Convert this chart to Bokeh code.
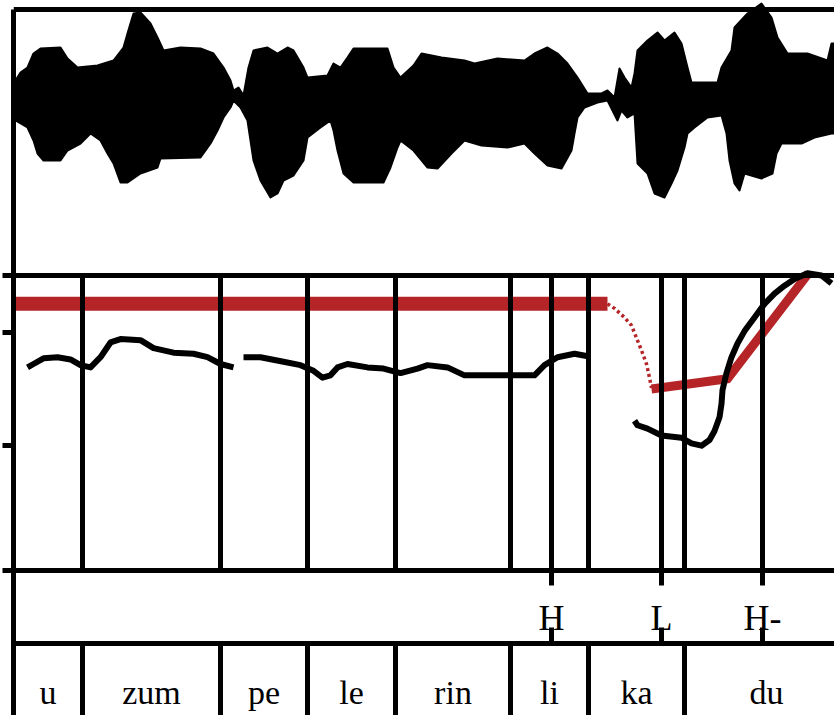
from bokeh.plotting import figure
from bokeh.models import Range1d, LinearAxis, FixedTicker, Span, CustomJSTickFormatter
from bokeh.embed import file_html
from bokeh.resources import INLINE
from bokeh.core.properties import value

# ---------------- data (time in ms) ----------------
# waveform envelope (relative amplitude)
wave_upper_ms = [4, 14, 28, 40, 54, 94, 108, 128, 168, 200, 220, 228, 240, 254, 274, 288, 300, 334, 374, 400,
                 420, 434, 440, 450, 460, 470, 480, 508, 528, 548, 560, 580, 588, 628, 640, 654, 668, 680, 748, 760,
                 774, 800, 816, 856, 902, 922, 968, 1022, 1042, 1068, 1088, 1108, 1128, 1148, 1176, 1188, 1202, 1212,
                 1222, 1236, 1242, 1248, 1268, 1288, 1302, 1322, 1336, 1348, 1356, 1408, 1416, 1436, 1442, 1468,
                 1496, 1516, 1528, 1548, 1588, 1628, 1636, 1646]
wave_upper_amp = [0.20, 0.28, 0.33, 0.47, 0.52, 0.53, 0.42, 0.33, 0.35, 0.40, 0.53, 0.67, 0.87, 0.88, 0.77, 0.63,
                  0.50, 0.53, 0.52, 0.47, 0.33, 0.20, 0.10, 0.13, 0.05, 0.33, 0.50, 0.53, 0.47, 0.53, 0.50, 0.33,
                  0.23, 0.25, 0.37, 0.33, 0.43, 0.52, 0.52, 0.33, 0.23, 0.35, 0.47, 0.43, 0.40, 0.37, 0.42, 0.40,
                  0.47, 0.53, 0.47, 0.37, 0.23, 0.07, 0.07, 0.10, 0.03, 0.32, 0.23, 0.13, 0.27, 0.50, 0.60, 0.68,
                  0.60, 0.68, 0.57, 0.33, 0.18, 0.18, 0.33, 0.50, 0.73, 0.87, 0.97, 0.83, 0.63, 0.47, 0.47, 0.40,
                  0.57, 0.57]
wave_lower_ms = [4, 28, 40, 48, 60, 94, 108, 134, 154, 174, 188, 200, 214, 228, 254, 288, 294, 374, 394, 408,
                 420, 434, 440, 454, 468, 474, 480, 494, 514, 528, 540, 560, 580, 588, 614, 634, 640, 648, 660, 680,
                 740, 754, 768, 774, 800, 828, 848, 876, 902, 936, 988, 1022, 1042, 1068, 1096, 1116, 1122, 1128,
                 1142, 1168, 1188, 1208, 1216, 1228, 1242, 1248, 1268, 1282, 1302, 1316, 1328, 1342, 1348, 1362,
                 1388, 1416, 1426, 1432, 1442, 1452, 1462, 1496, 1518, 1526, 1536, 1576, 1602, 1636, 1646]
wave_lower_amp = [-0.20, -0.27, -0.40, -0.53, -0.60, -0.60, -0.50, -0.43, -0.33, -0.40, -0.53, -0.63, -0.82,
                  -0.82, -0.73, -0.67, -0.58, -0.57, -0.43, -0.30, -0.17, -0.07, 0.0, -0.07, -0.20, -0.40, -0.60,
                  -0.80, -0.97, -0.93, -0.80, -0.75, -0.60, -0.37, -0.27, -0.20, -0.30, -0.50, -0.73, -0.82,
                  -0.82, -0.67, -0.47, -0.40, -0.50, -0.67, -0.68, -0.53, -0.40, -0.45, -0.47, -0.43, -0.53,
                  -0.65, -0.68, -0.50, -0.33, -0.17, -0.07, -0.02, 0.0, -0.20, -0.10, -0.17, -0.13, -0.63, -0.73,
                  -0.93, -0.97, -0.83, -0.70, -0.47, -0.33, -0.27, -0.17, -0.15, -0.33, -0.60, -0.83, -0.90,
                  -0.73, -0.78, -0.73, -0.53, -0.43, -0.43, -0.37, -0.33, -0.33]

# measured F0 (Hz), three voiced stretches
f0_ms = [
    [28, 40, 60, 88, 114, 134, 154, 174, 194, 214, 254, 280, 320, 360, 388, 414, 440],
    [460, 494, 540, 574, 600, 618, 634, 648, 668, 708, 740, 774, 808, 828, 868, 902, 936, 1002, 1042, 1062,
     1088, 1122, 1146],
    [1242, 1248, 1268, 1296, 1336, 1356, 1376, 1392, 1402, 1412, 1416, 1418, 1426, 1436, 1448, 1462, 1482,
     1502, 1522, 1542, 1562, 1588, 1616, 1636],
]
f0_hz = [
    [269, 272, 277, 278, 276, 271, 269, 278, 291, 294, 293, 286, 282, 281, 278, 272, 269],
    [278, 278, 274, 271, 266, 260, 262, 269, 272, 269, 268, 264, 268, 271, 269, 262, 262, 262, 262, 271,
     278, 281, 279],
    [222, 218, 215, 209, 207, 202, 200, 205, 213, 225, 237, 249, 264, 278, 290, 301, 313, 325, 334, 341,
     347, 352, 350, 343],
]

# stylised target contour (Hz)
level_ms = [0, 1188]
level_hz = [325, 325]
fall_ms = [1188, 1202, 1222, 1236, 1246, 1256, 1266, 1272, 1276]
fall_hz = [325, 321, 313, 306, 295, 284, 272, 260, 251]
target_ms = [1276, 1428, 1590]
target_hz = [250, 259, 352]

# annotation tiers
tone_ms = [1076, 1296, 1498]
tone_labels = ["H", "L", "H-"]
syllable_starts_ms = [0, 138, 414, 588, 764, 994, 1150, 1342]
syllable_end_ms = 1670
syllables = ["u", "zum", "pe", "le", "rin", "li", "ka", "du"]

pitch_ticks_hz = [90, 200, 300, 350]

# ---------------- layout (pixel rows) ----------------
W, H = 834, 715
LEFT = 13
TOP_LINE, WAVE_BOT, PITCH_BOT, TONE_BOT = 9, 275, 570, 643
PITCH_LO, PITCH_HI = 90, 350
WAVE_ZERO_PX, WAVE_PX_PER_UNIT = 100, 100
X_END = 1642
RED = "#B52528"
LW = 5

hz_per_px = (PITCH_HI - PITCH_LO) / (PITCH_BOT - WAVE_BOT)
def hz_at(px):
    return PITCH_LO + (PITCH_BOT - px) * hz_per_px

p = figure(width=W, height=H, output_backend="svg", toolbar_location=None,
           x_range=Range1d(0, X_END), y_range=Range1d(H, 0),
           x_axis_type=None, y_axis_type=None,
           min_border_left=LEFT, min_border_right=0, min_border_top=0, min_border_bottom=0)
p.outline_line_color = None
p.background_fill_color = "white"
p.border_fill_color = "white"
p.extra_y_ranges = {
    "pitch": Range1d(hz_at(H), hz_at(0)),
    "wave": Range1d((WAVE_ZERO_PX - H) / WAVE_PX_PER_UNIT, WAVE_ZERO_PX / WAVE_PX_PER_UNIT),
}

ax = LinearAxis(y_range_name="pitch", ticker=FixedTicker(ticks=pitch_ticks_hz),
                formatter=CustomJSTickFormatter(code="return ''"),
                major_tick_out=11, major_tick_in=0, minor_tick_out=0, minor_tick_in=0,
                axis_line_width=LW, major_tick_line_width=LW, major_label_standoff=0,
                bounds=(hz_at(H), hz_at(TOP_LINE)))
p.add_layout(ax, "left")

# waveform
p.patch(wave_upper_ms + wave_lower_ms[::-1], wave_upper_amp + wave_lower_amp[::-1],
        y_range_name="wave", fill_color="black", line_color="black", line_width=2, line_join="round")

# target contour
p.line(level_ms, level_hz, y_range_name="pitch", color=RED, line_width=14, line_cap="butt")
p.line(fall_ms, fall_hz, y_range_name="pitch", color=RED, line_width=3.5, line_dash="3 3")
p.line(target_ms, target_hz, y_range_name="pitch", color=RED, line_width=9, line_join="miter")

# F0 track
p.multi_line(f0_ms, f0_hz, y_range_name="pitch", color="black", line_width=6, line_join="round")

# boundaries
pitch_lines = sorted(syllable_starts_ms[1:] + tone_ms)
p.segment(x0=pitch_lines, x1=pitch_lines, y0=[WAVE_BOT] * len(pitch_lines), y1=[PITCH_BOT] * len(pitch_lines),
          color="black", line_width=LW)
p.segment(x0=tone_ms, x1=tone_ms, y0=[PITCH_BOT] * 3, y1=[PITCH_BOT + 15] * 3, color="black", line_width=LW)
p.segment(x0=tone_ms, x1=tone_ms, y0=[TONE_BOT - 16] * 3, y1=[TONE_BOT] * 3, color="black", line_width=LW)
syl_lines = syllable_starts_ms[1:]
p.segment(x0=syl_lines, x1=syl_lines, y0=[TONE_BOT] * len(syl_lines), y1=[H + 5] * len(syl_lines),
          color="black", line_width=LW)

for yy in (TOP_LINE, WAVE_BOT, PITCH_BOT, TONE_BOT):
    p.add_layout(Span(location=yy, dimension="width", line_color="black", line_width=LW))

# labels
ends = syllable_starts_ms[1:] + [syllable_end_ms]
mids = [(a + b) / 2 for a, b in zip(syllable_starts_ms, ends)]
p.text(x=mids, y=[692] * len(mids), text=syllables, text_align="center", text_baseline="alphabetic",
       text_font=value("Liberation Serif"), text_font_size="34px", text_color="black")
p.text(x=tone_ms, y=[617] * 3, text=tone_labels, text_align="center", text_baseline="alphabetic",
       text_font=value("Liberation Serif"), text_font_size="36px", text_color="black")

open("out.html", "w").write(file_html(p, INLINE))
